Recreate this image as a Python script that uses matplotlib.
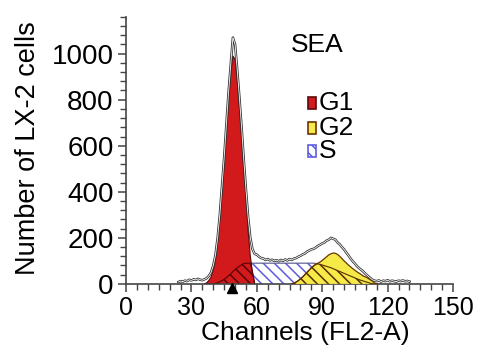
import numpy as np
import matplotlib
matplotlib.use('Agg')
import matplotlib.pyplot as plt
from matplotlib.patches import Rectangle
from matplotlib.ticker import MultipleLocator

plt.rcParams['font.family'] = ['Liberation Sans', 'DejaVu Sans']
plt.rcParams['hatch.linewidth'] = 1.1

# Raw histogram (channel 24..130)
raw_ch = np.arange(24, 131)
raw = [8, 12, 10, 14, 12, 18, 15, 20, 17, 22, 18, 16, 20, 25, 35, 50,
       80, 125, 200, 300, 425, 550, 690, 830, 950, 1070, 1040, 930, 810,
       680, 540, 410, 290, 200, 150, 130, 127, 118, 112, 110, 104, 108,
       102, 105, 100, 103, 98, 104, 100, 106, 102, 108, 104, 110, 112,
       118, 122, 128, 132, 140, 145, 150, 152, 158, 165, 170, 176, 180,
       188, 192, 200, 196, 192, 180, 172, 160, 150, 136, 124, 110, 98,
       88, 76, 68, 60, 52, 42, 34, 26, 18, 14, 12, 15, 10, 14, 12, 16,
       11, 14, 12, 10, 14, 12, 15, 11, 13, 10]

# G1 component (channel 36..59)
g1_ch = np.arange(36, 60)
g1 = [0, 5, 15, 30, 60, 105, 180, 280, 400, 520, 650, 790, 910, 990,
      975, 880, 760, 630, 490, 380, 230, 120, 50, 0]

# S component (channel 36..116)
s_ch = np.arange(36, 117)
s = ([0, 0, 0, 0, 0, 2, 5, 9, 14, 20, 27, 35, 44, 53, 62, 70, 77, 83, 88]
     + [90] * 32
     + [89, 87, 85, 82, 79, 76, 73, 70, 66, 62, 58, 54, 50, 46, 42, 38,
        34, 30, 26, 22, 18, 15, 12, 9, 6, 3, 1, 0, 0, 0])

# G2 component (channel 76..115)
g2_ch = np.arange(76, 116)
g2 = [0, 3, 8, 14, 22, 30, 40, 50, 60, 70, 78, 85, 90, 95, 102, 110, 118,
      126, 131, 134, 133, 128, 120, 110, 100, 91, 82, 74, 66, 59, 52, 46,
      40, 33, 30, 24, 18, 12, 4, 0]

s = np.array(s, dtype=float)
g1 = np.array(g1, dtype=float)
g2 = np.array(g2, dtype=float)

RED = '#d21a1d'
YEL = '#f6ea48'
BLUE = '#5c5ce0'

fig = plt.figure(figsize=(4.83, 3.58), dpi=100)
ax = fig.add_axes([0.261, 0.207, 0.677, 0.746])

# S phase (blue hatch)
ax.fill_between(s_ch, 0, s, facecolor='white', edgecolor=BLUE,
                hatch='\\\\\\', linewidth=0, zorder=1)
ax.plot(s_ch, s, color='#55558a', lw=0.8, zorder=1.5)

# G1
ax.fill_between(g1_ch, 0, g1, facecolor=RED, edgecolor='none', zorder=2)
ax.plot(g1_ch, g1, color='#5a0a0a', lw=0.8, zorder=2.2)
s_g1 = np.minimum(g1, s[:len(g1_ch)])
ax.fill_between(g1_ch, 0, s_g1, facecolor='none', edgecolor='#5a0000',
                hatch='\\\\\\', linewidth=0, zorder=2.4)
ax.plot(g1_ch, s_g1, color='#5a0000', lw=0.8, zorder=2.5)

# G2
ax.fill_between(g2_ch, 0, g2, facecolor=YEL, edgecolor='none', zorder=3)
ax.plot(g2_ch, g2, color='#6b3500', lw=0.9, zorder=3.2)
i0 = list(s_ch).index(g2_ch[0])
s_g2 = np.minimum(g2, s[i0:i0 + len(g2_ch)])
ax.fill_between(g2_ch, 0, s_g2, facecolor='none', edgecolor='#5a2d00',
                hatch='\\\\\\', linewidth=0, zorder=3.4)
ax.plot(g2_ch, s_g2, color='#5a2d00', lw=0.8, zorder=3.5)

# raw data outline (double line look)
ax.plot(raw_ch, raw, color='#333333', lw=1.8, zorder=4)
ax.plot(raw_ch, raw, color='white', lw=0.6, zorder=4.1)

# marker under the axis
ax.plot([48.5], [-20], marker='^', color='black', markersize=7,
        clip_on=False, zorder=6)

ax.set_xlim(0, 150)
ax.set_ylim(0, 1160)
ax.xaxis.set_major_locator(MultipleLocator(30))
ax.xaxis.set_minor_locator(MultipleLocator(5))
ax.yaxis.set_minor_locator(MultipleLocator(40))
ax.set_yticks([0, 200, 400, 600, 800, 1000])

for sp in ['top', 'right']:
    ax.spines[sp].set_visible(False)
for sp in ['left', 'bottom']:
    ax.spines[sp].set_color('#444444')
    ax.spines[sp].set_linewidth(1.2)

ax.tick_params(which='major', length=6, width=1.1, color='#444444',
               labelsize=18, pad=3)
ax.tick_params(which='minor', length=4, width=1.0, color='#444444')
ax.tick_params(axis='y', which='major', labelsize=20)

ax.set_xlabel('Channels (FL2-A)', fontsize=19)
ax.set_ylabel('Number of LX-2 cells', fontsize=19.5)
ax.xaxis.set_label_coords(0.547, -0.14)
ax.yaxis.set_label_coords(-0.26, 0.51)

# title text and legend
ax.text(0.505, 0.895, 'SEA', transform=ax.transAxes, fontsize=19,
        va='center', ha='left')
leg = [('G1', RED, '#5a0a0a', None),
       ('G2', YEL, '#6b3500', None),
       ('S', 'white', BLUE, '\\\\\\')]
leg_y = [0.678, 0.585, 0.498]
for (lab, fc, ec, h), y in zip(leg, leg_y):
    r = Rectangle((0.555, y - 0.022), 0.025, 0.044, transform=ax.transAxes,
                  facecolor=fc, edgecolor=ec, lw=1.2, hatch=h)
    ax.add_patch(r)
    ax.text(0.59, y, lab, transform=ax.transAxes, fontsize=19,
            va='center', ha='left')

fig.savefig('out.png', dpi=100)
